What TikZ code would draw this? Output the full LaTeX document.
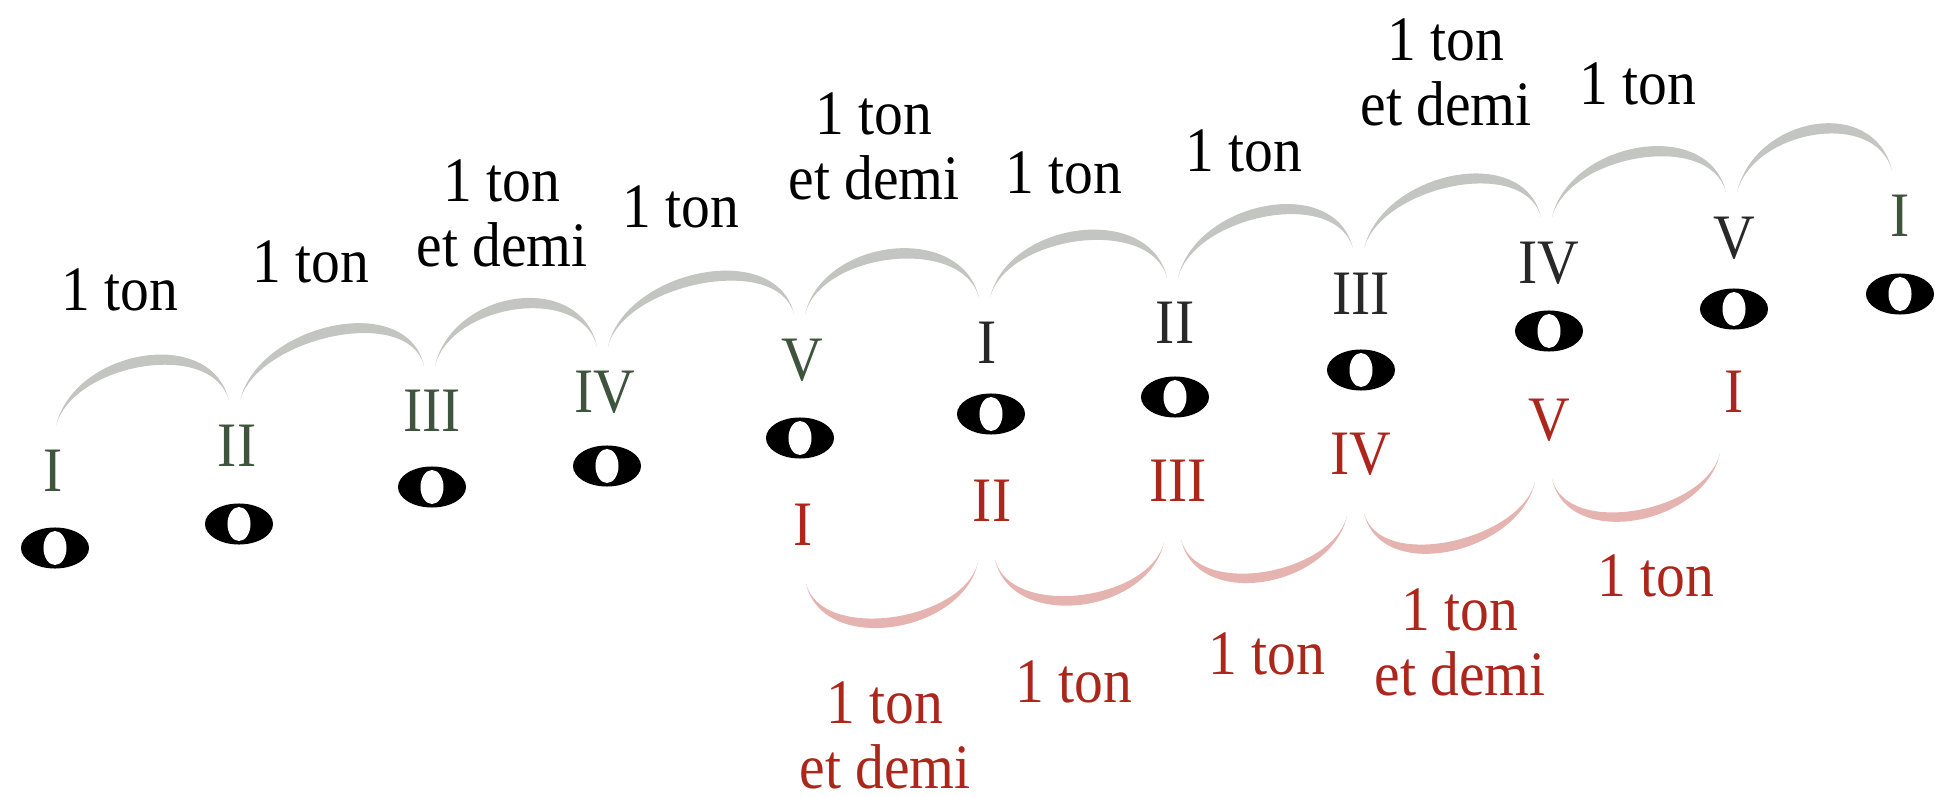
\documentclass[tikz,border=0pt]{standalone}
\usepackage{fontspec}
\newfontfamily\tonfont{Liberation Serif}[FakeStretch=0.91]
\usetikzlibrary{shapes.geometric, calc}

\definecolor{arcgray}{RGB}{195,197,192}
\definecolor{arcred}{RGB}{230,180,176}
\definecolor{numgreen}{RGB}{62,84,60}
\definecolor{numblack}{RGB}{40,40,40}
\definecolor{txtred}{RGB}{172,38,28}

\tikzset{
  lbl/.style={font=\tonfont\fontsize{18}{18.5}\selectfont, align=center, inner sep=0pt},
  deg/.style={lbl},
  note/.style={ellipse, fill=black, minimum width=0.68cm, minimum height=0.41cm, inner sep=0pt,
    path picture={\fill[white, rotate around={-8:(path picture bounding box.center)}]
      (path picture bounding box.center) ellipse [x radius=0.115cm, y radius=0.17cm];}},
  uparc/.style={fill=arcgray},
  downarc/.style={fill=arcred}
}

\begin{document}
\begin{tikzpicture}[x=0.01cm, y=-0.01cm]
  \useasboundingbox (0,0) rectangle (1935,797);

  % whole notes
  \foreach \x/\y [count=\i] in {55/548, 239/524, 432/487, 607/466, 800/438, 991/414,
                               1175/397, 1361/370, 1549/331, 1734/309, 1900/294}
    \node[note] (n\i) at (\x,\y) {};

  % degrees of the first scale
  \foreach \x/\y/\d/\c [count=\i] in {53/471/I/numgreen, 237/446/II/numgreen, 432/411/III/numgreen,
        605/392/IV/numgreen, 802/360/V/numgreen, 987/343/I/numblack, 1175/323/II/numblack,
        1361/294/III/numblack, 1549/263/IV/numblack, 1734/238/V/numblack, 1900/216/I/numgreen}
    \node[deg, text=\c] (t\i) at (\x,\y) {\d};

  % degrees of the second scale
  \foreach \x/\y/\d [count=\i] in {803/525/I, 992/501/II, 1178/481/III, 1361/454/IV,
                                  1549/420/V, 1734/392/I}
    \node[deg, text=txtred] (r\i) at (\x,\y) {\d};

  % arcs above
  \foreach \i [evaluate=\i as \j using int(\i+1)] in {1,...,10}{
    \coordinate (arcA) at ($(t\i.north)+(3,-24)$);
    \coordinate (arcB) at ($(t\j.north)+(-8,-24)$);
    \fill[uparc] (arcA) .. controls +(18,-76) and +(-18,-76) .. (arcB)
                 .. controls +(-17,-62) and +(17,-62) .. (arcA) -- cycle;
  }

  % arcs below
  \foreach \i [evaluate=\i as \j using int(\i+1)] in {1,...,5}{
    \coordinate (arcA) at ($(r\i.south)+(3,37)$);
    \coordinate (arcB) at ($(r\j.south)+(-14,40)$);
    \fill[downarc] (arcA) .. controls +(16,72) and +(-16,72) .. (arcB)
                   .. controls +(-15,59) and +(15,59) .. (arcA) -- cycle;
  }

  % intervals above
  \foreach \x/\y/\txt [count=\i] in {120/290/{1 ton}, 311/262/{1 ton}, 502/213/{1 ton\\et demi},
        681/207/{1 ton}, 874/146/{1 ton\\et demi}, 1064/173/{1 ton}, 1244/151/{1 ton},
        1446/72/{1 ton\\et demi}, 1638/84/{1 ton}}
    \node[lbl] (up\i) at (\x,\y) {\txt};

  % intervals below
  \foreach \x/\y/\txt [count=\i] in {885/735/{1 ton\\et demi}, 1074/682/{1 ton}, 1267/654/{1 ton},
        1460/642/{1 ton\\et demi}, 1656/576/{1 ton}}
    \node[lbl, text=txtred] (dn\i) at (\x,\y) {\txt};
\end{tikzpicture}
\end{document}
